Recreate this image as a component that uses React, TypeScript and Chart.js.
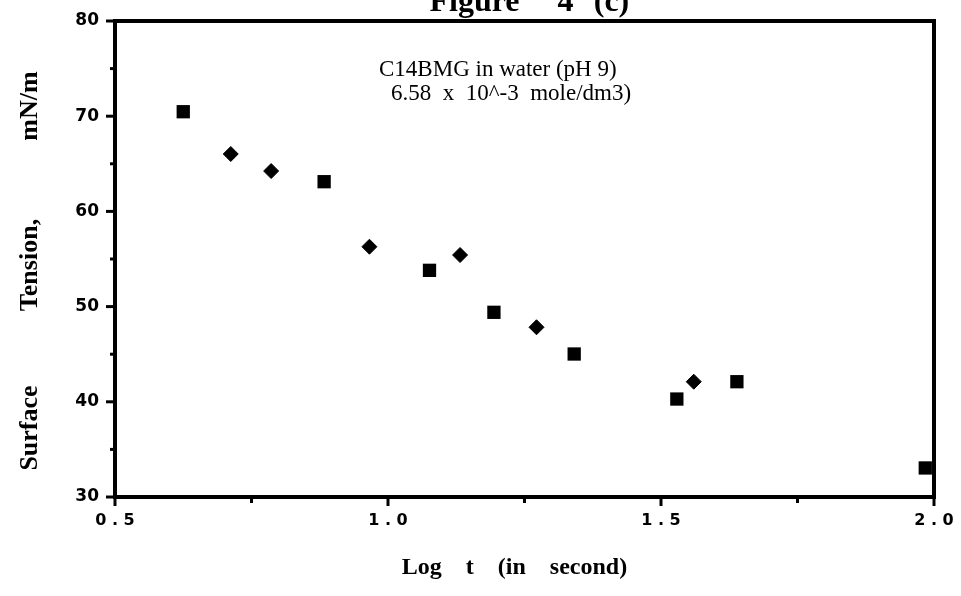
import React, { useEffect, useRef } from "react";
import { Chart, registerables } from "chart.js";
Chart.register(...registerables);

// ---- data ----
const squareX = [0.625, 0.883, 1.076, 1.194, 1.341, 1.529, 1.639, 1.984];
const squareY = [70.47, 63.12, 53.81, 49.4, 45.02, 40.29, 42.11, 33.05];
const diamondX = [0.712, 0.786, 0.966, 1.132, 1.272, 1.56];
const diamondY = [66.03, 64.24, 56.29, 55.42, 47.83, 42.11];

const xMajor = [0.5, 1.0, 1.5, 2.0];
const xTickLabels = ["0 . 5", "1 . 0", "1 . 5", "2 . 0"];
const xMinor = [0.75, 1.25, 1.75];
const yMajor = [30, 40, 50, 60, 70, 80];
const yTickLabels = ["30", "40", "50", "60", "70", "80"];
const yMinor = [35, 45, 55, 65, 75];

const titleWords = ["Figure", "4", "(c)"];
const noteLine1 = "C14BMG in water (pH 9)";
const noteLine2 = "6.58  x  10^-3  mole/dm3)";
const xTitle = "Log    t    (in    second)";
const yTitleWords = ["Surface", "Tension,", "mN/m"];

const framePlugin = {
  id: "frame",
  afterDraw(chart: any) {
    const { ctx, chartArea: a, scales } = chart;
    const xs = scales.x;
    const ys = scales.y;
    ctx.save();
    ctx.strokeStyle = "#000";
    ctx.fillStyle = "#000";
    ctx.lineWidth = 4;
    ctx.strokeRect(a.left, a.top, a.right - a.left, a.bottom - a.top);

    ctx.lineWidth = 3;
    yMajor.forEach((v) => {
      const y = ys.getPixelForValue(v);
      ctx.beginPath();
      ctx.moveTo(a.left, y);
      ctx.lineTo(a.left - 9, y);
      ctx.stroke();
    });
    yMinor.forEach((v) => {
      const y = ys.getPixelForValue(v);
      ctx.beginPath();
      ctx.moveTo(a.left, y);
      ctx.lineTo(a.left - 5, y);
      ctx.stroke();
    });
    xMajor.forEach((v) => {
      const x = xs.getPixelForValue(v);
      ctx.beginPath();
      ctx.moveTo(x, a.bottom);
      ctx.lineTo(x, a.bottom + 9);
      ctx.stroke();
    });
    xMinor.forEach((v) => {
      const x = xs.getPixelForValue(v);
      ctx.beginPath();
      ctx.moveTo(x, a.bottom);
      ctx.lineTo(x, a.bottom + 6);
      ctx.stroke();
    });

    // tick labels
    ctx.font = "bold 17px 'DejaVu Sans'";
    ctx.textAlign = "right";
    ctx.textBaseline = "middle";
    yMajor.forEach((v, i) => {
      ctx.fillText(yTickLabels[i], a.left - 16, ys.getPixelForValue(v));
    });
    ctx.font = "bold 16px 'DejaVu Sans'";
    ctx.textAlign = "center";
    xMajor.forEach((v, i) => {
      ctx.fillText(xTickLabels[i], xs.getPixelForValue(v), a.bottom + 24);
    });

    const cx = (a.left + a.right) / 2;
    // title, cut at the top edge as in the scan
    ctx.font = "bold 32px 'Liberation Serif'";
    ctx.textBaseline = "alphabetic";
    const titleCenters = [cx - 50, cx + 41, cx + 87];
    titleWords.forEach((w, i) => ctx.fillText(w, titleCenters[i], 11));

    // note
    ctx.font = "23px 'Liberation Serif'";
    ctx.textAlign = "left";
    ctx.fillText(noteLine1, 379, 76);
    ctx.fillText(noteLine2, 391, 100);

    // x axis title
    ctx.font = "bold 24px 'Liberation Serif'";
    ctx.textAlign = "center";
    ctx.fillText(xTitle, cx - 10, 574);

    // y axis title
    ctx.font = "bold 26px 'Liberation Serif'";
    const yCenters = [428, 265, 106];
    yTitleWords.forEach((w, i) => {
      ctx.save();
      ctx.translate(37, yCenters[i]);
      ctx.rotate(-Math.PI / 2);
      ctx.fillText(w, 0, 0);
      ctx.restore();
    });
    ctx.restore();
  },
};

export default function App() {
  const ref = useRef<HTMLCanvasElement>(null);
  useEffect(() => {
    if (!ref.current) return;
    const chart = new Chart(ref.current, {
      type: "scatter",
      data: {
        datasets: [
          {
            label: "squares",
            data: squareX.map((x, i) => ({ x, y: squareY[i] })),
            pointStyle: "rect",
            pointRadius: 9.4,
            backgroundColor: "#000",
            borderColor: "#000",
            borderWidth: 0,
          },
          {
            label: "diamonds",
            data: diamondX.map((x, i) => ({ x, y: diamondY[i] })),
            pointStyle: "rectRot",
            pointRadius: 7.5,
            backgroundColor: "#000",
            borderColor: "#000",
            borderWidth: 1,
          },
        ],
      },
      options: {
        responsive: false,
        animation: false,
        layout: { padding: { left: 115, top: 21, right: 27, bottom: 99 } },
        plugins: { legend: { display: false }, tooltip: { enabled: false } },
        scales: {
          x: { type: "linear", min: 0.5, max: 2.0, display: false },
          y: { type: "linear", min: 30, max: 80, display: false },
        },
      },
      plugins: [framePlugin],
    });
    return () => chart.destroy();
  }, []);
  return (
    <div style={{ position: "fixed", left: 0, top: 0, width: 961, height: 596, background: "#fff" }}>
      <canvas ref={ref} width={961} height={596} style={{ display: "block" }} />
    </div>
  );
}
